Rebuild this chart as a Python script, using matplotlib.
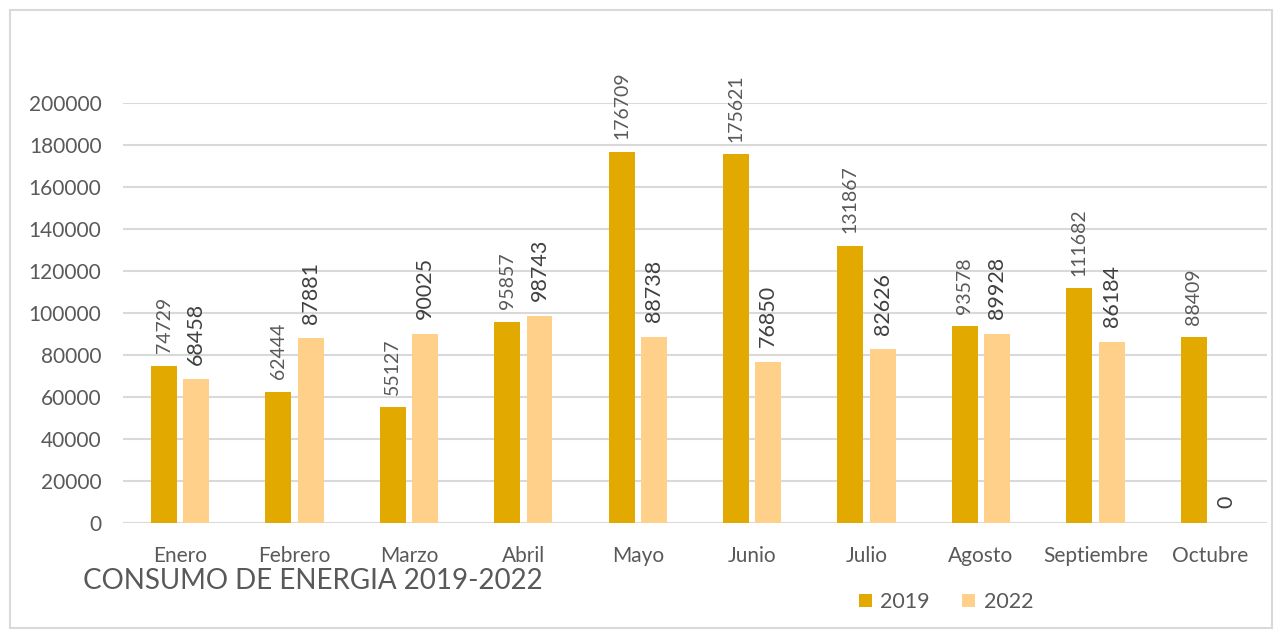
import matplotlib.pyplot as plt
from matplotlib.patches import Rectangle
import numpy as np

plt.rcParams['font.family'] = ['Lato', 'DejaVu Sans']

months = ['Enero', 'Febrero', 'Marzo', 'Abril', 'Mayo', 'Junio', 'Julio',
          'Agosto', 'Septiembre', 'Octubre']
v2019 = [74729, 62444, 55127, 95857, 176709, 175621, 131867, 93578, 111682, 88409]
v2022 = [68458, 87881, 90025, 98743, 88738, 76850, 82626, 89928, 86184, 0]
yticks = [0, 20000, 40000, 60000, 80000, 100000, 120000, 140000, 160000, 180000, 200000]

c2019 = '#E2AA00'
c2022 = '#FFD08A'
gray = '#595959'

fig = plt.figure(figsize=(12.82, 6.37), dpi=100)
ax = fig.add_axes([0.0959, 0.179, 0.8924, 0.6593])

# marco exterior
fig.patches.append(Rectangle((10 / 1282, 9 / 637), 1262 / 1282, 618 / 637,
                             transform=fig.transFigure, fill=False,
                             edgecolor='#D9D9D9', lw=1.5))

x = np.arange(len(months))
w = 0.227
off = 0.141
ax.bar(x - off, v2019, w, color=c2019, label='2019', zorder=3)
ax.bar(x + off, v2022, w, color=c2022, label='2022', zorder=3)

for xi, v in zip(x, v2019):
    ax.text(xi - off, v + 6000, str(v), rotation=90, ha='center', va='bottom',
            fontsize=14, color=gray, clip_on=False)
for xi, v in zip(x, v2022):
    ax.text(xi + off, v + 7000, str(v), rotation=90, ha='center', va='bottom',
            fontsize=15.5, color='#404040', clip_on=False)

ax.set_xlim(-0.5, len(months) - 0.5)
ax.set_ylim(0, 200000)
ax.set_yticks(yticks)
ax.set_yticklabels([str(t) for t in yticks])
ax.set_xticks(x)
ax.set_xticklabels(months)
ax.tick_params(axis='both', length=0, labelsize=15, labelcolor=gray)
ax.tick_params(axis='y', pad=15.5)
ax.tick_params(axis='x', pad=16.5)
ax.grid(axis='y', color='#D9D9D9', lw=1.5, zorder=0)
for s in ax.spines.values():
    s.set_visible(False)

fig.text(83 / 1282, 1 - 581 / 637, 'CONSUMO DE ENERGIA 2019-2022', fontsize=20,
         color=gray, va='center', ha='left')

ax.legend(loc='center', bbox_to_anchor=(946 / 1282, 1 - 602 / 637),
          bbox_transform=fig.transFigure, ncol=2, frameon=False, fontsize=15.5,
          labelcolor=gray, handlelength=0.6, handleheight=0.6, columnspacing=1.5,
          handletextpad=0.4)

fig.savefig('out.png', dpi=100)
